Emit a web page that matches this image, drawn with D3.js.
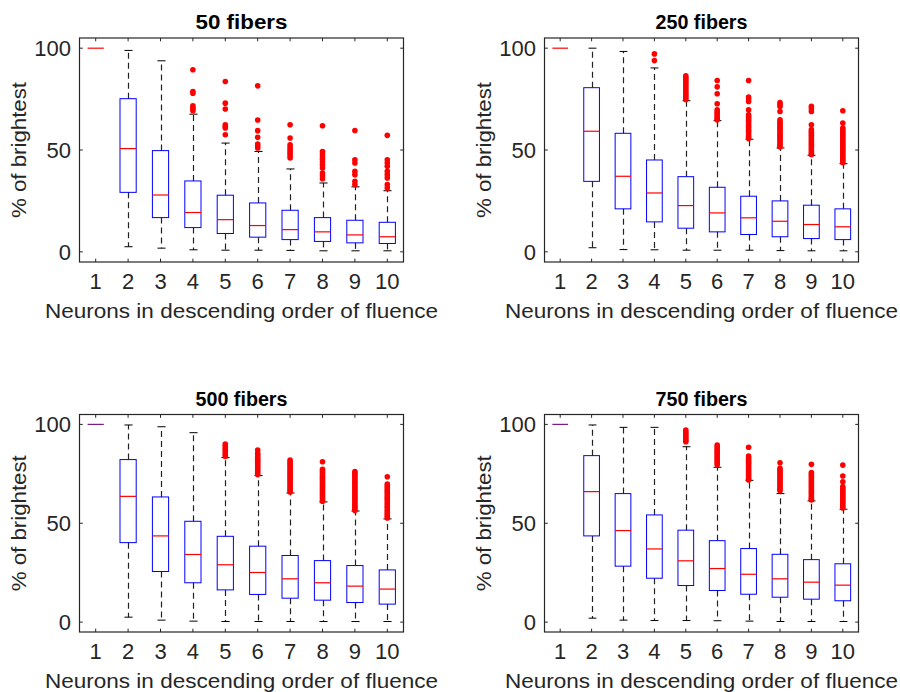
<!DOCTYPE html>
<html>
<head>
<meta charset="utf-8">
<script src="https://cdn.jsdelivr.net/npm/d3@7"></script>
<style>
  html, body { margin: 0; padding: 0; background: #fff; }
  svg { display: block; }
  text { font-family: "Liberation Sans", Arial, Helvetica, sans-serif; fill: #262626; }
</style>
</head>
<body>
<svg id="chart" width="900" height="692"></svg>
<script>
// ---------- data ----------
const neurons = [1, 2, 3, 4, 5, 6, 7, 8, 9, 10];
const yTicks = [0, 50, 100];
const panelTitles = ["50 fibers", "250 fibers", "500 fibers", "750 fibers"];
const xLabel = "Neurons in descending order of fluence";
const yLabel = "% of brightest";

// 50 fibers
const f50_hi  = [100, 98.9, 93.8, 67.6, 53.4, 49.3, 40.7, 33.8, 31.9, 30.0];
const f50_q3  = [100, 75.2, 49.7, 34.8, 27.8, 24.0, 20.4, 16.8, 15.5, 14.5];
const f50_med = [100, 50.7, 27.9, 19.3, 15.8, 12.9, 10.9, 9.8, 8.3, 7.4];
const f50_q1  = [100, 29.2, 16.8, 11.9, 9.0, 7.2, 6.0, 5.1, 4.4, 4.1];
const f50_lo  = [100, 2.5, 1.8, 1.0, 0.8, 0.8, 0.7, 0.5, 0.5, 0.5];
const f50_out = [
  [], [], [],
  [89.4, 78.7, 77.9, 71.7, 70.9, 70.1, 69.3],
  [83.6, 73.0, 70.1, 62.4, 61.6, 60.8, 57.5],
  [81.5, 64.7, 59.5, 56.2, 52.9, 52.0, 51.0],
  [62.4, 55.9, 52.6, 51.5, 50.4, 49.3, 48.2, 47.1, 46.1],
  [61.9, 49.3, 48.0, 46.7, 45.4, 44.1, 42.8, 41.2, 38.7, 37.3, 35.9],
  [59.6, 45.2, 43.6, 39.5, 37.9, 34.6, 33.0],
  [57.2, 45.2, 43.6, 42.0, 39.5, 37.9, 36.3, 33.0, 31.4]
];

// 250 fibers
const f250_hi  = [100, 100, 98.4, 90.3, 74.2, 64.4, 55.3, 51.0, 47.4, 43.3];
const f250_q3  = [100, 80.6, 58.2, 45.1, 36.9, 31.7, 27.3, 25.0, 22.9, 21.1];
const f250_med = [100, 59.2, 37.1, 28.9, 22.7, 19.1, 16.7, 15.0, 13.4, 12.3];
const f250_q1  = [100, 34.6, 21.1, 14.7, 11.6, 9.8, 8.5, 7.4, 6.5, 6.0];
const f250_lo  = [100, 2.0, 1.1, 1.0, 0.8, 0.8, 0.8, 0.6, 0.5, 0.5];
const f250_out = [
  [], [], [],
  [97.2, 93.9],
  [86.4, 85.5, 84.6, 83.7, 82.8, 81.9, 81.0, 80.1, 79.2, 78.3, 77.4, 76.5, 75.6, 74.8],
  [84.1, 81.0, 77.6, 72.7, 69.7, 68.8, 67.9, 67.0, 66.1, 65.2, 64.8],
  [84.1, 76.0, 75.0, 73.8, 69.7, 67.3, 66.4, 65.5, 64.6, 63.7, 62.8, 61.9, 61.0, 60.1, 59.2, 58.3, 57.4, 56.5, 55.6],
  [73.3, 72.3, 71.4, 68.9, 64.8, 63.9, 63.0, 62.1, 61.2, 60.3, 59.4, 58.5, 57.6, 56.7, 55.8, 54.9, 54.0, 53.1, 52.2, 51.5],
  [71.4, 70.2, 68.9, 62.4, 60.0, 59.1, 58.2, 57.3, 56.4, 55.5, 54.6, 53.7, 52.8, 51.9, 51.0, 50.1, 49.2, 48.3, 47.7],
  [69.3, 63.2, 60.8, 59.9, 59.0, 58.1, 57.2, 56.3, 55.4, 54.5, 53.6, 52.7, 51.8, 50.9, 50.0, 49.1, 48.2, 47.3, 46.4, 45.5, 44.6, 43.8]
];

// 500 fibers
const f500_hi  = [100, 99.7, 98.8, 95.8, 83.2, 74.1, 65.3, 60.8, 56.2, 52.2];
const f500_q3  = [100, 82.2, 63.3, 51.0, 43.4, 38.4, 33.7, 31.1, 28.6, 26.4];
const f500_med = [100, 63.6, 43.6, 34.2, 29.0, 25.1, 21.9, 19.9, 18.2, 16.7];
const f500_q1  = [100, 40.2, 25.6, 19.9, 16.3, 14.0, 12.1, 11.1, 9.9, 9.1];
const f500_lo  = [100, 2.5, 1.0, 0.5, 0.3, 0.3, 0.3, 0.3, 0.3, 0.3];
const f500_out = [
  [], [], [], [],
  [90.1, 89.2, 88.3, 87.4, 86.5, 85.6, 84.7, 83.8],
  [87.0, 85.4, 84.5, 83.6, 82.7, 81.8, 80.9, 80.0, 79.1, 78.2, 77.3, 76.4, 75.5, 74.6],
  [82.0, 81.1, 80.2, 79.3, 78.4, 77.5, 76.6, 75.7, 74.8, 73.9, 73.0, 72.1, 71.2, 70.3, 69.4, 68.5, 67.6, 66.7, 65.8],
  [81.1, 77.3, 76.4, 75.5, 74.6, 73.7, 72.8, 71.9, 71.0, 70.1, 69.2, 68.3, 67.4, 66.5, 65.6, 64.7, 63.8, 62.9, 62.0, 61.1],
  [76.1, 75.2, 74.3, 73.4, 72.5, 71.6, 70.7, 69.8, 68.9, 68.0, 67.1, 66.2, 65.3, 64.4, 63.5, 62.6, 61.7, 60.8, 59.9, 59.0, 58.1, 57.2, 56.5],
  [73.5, 69.8, 68.9, 68.0, 67.1, 66.2, 65.3, 64.4, 63.5, 62.6, 61.7, 60.8, 59.9, 59.0, 58.1, 57.2, 56.3, 55.4, 54.5, 53.6, 52.7]
];

// 750 fibers
const f750_hi  = [100, 99.7, 98.5, 98.5, 88.7, 78.3, 71.7, 65.0, 61.3, 57.1];
const f750_q3  = [100, 84.2, 65.0, 54.2, 46.5, 41.2, 37.2, 34.3, 31.6, 29.5];
const f750_med = [100, 66.0, 46.3, 37.0, 31.0, 27.1, 24.2, 21.9, 20.2, 18.7];
const f750_q1  = [100, 43.6, 28.3, 22.2, 18.5, 16.0, 14.1, 12.6, 11.6, 10.8];
const f750_lo  = [100, 2.0, 1.0, 0.8, 0.8, 0.7, 0.5, 0.3, 0.3, 0.3];
const f750_out = [
  [], [], [], [],
  [97.1, 96.2, 95.3, 94.4, 93.5, 92.6, 91.7, 91.2],
  [89.5, 88.6, 87.7, 86.8, 85.9, 85.0, 84.1, 83.2, 82.3, 81.4, 80.5, 79.6],
  [88.4, 84.0, 83.1, 82.2, 81.3, 80.4, 79.5, 78.6, 77.7, 76.8, 75.9, 75.0, 74.1, 73.2, 72.3, 71.9],
  [80.6, 77.8, 76.9, 76.0, 75.1, 74.2, 73.3, 72.4, 71.5, 70.6, 69.7, 68.8, 67.9, 67.0, 66.5],
  [79.8, 75.6, 74.7, 73.8, 72.9, 72.0, 71.1, 70.2, 69.3, 68.4, 67.5, 66.6, 65.7, 64.8, 63.9, 63.0, 62.1, 61.8],
  [79.4, 73.9, 71.0, 68.5, 67.6, 66.7, 65.8, 64.9, 64.0, 63.1, 62.2, 61.3, 60.4, 59.5, 58.6, 57.7]
];

// ---------- layout ----------
const panels = [
  { title: panelTitles[0], x0: 79.5,  x1: 403.5, y0: 38,    y1: 262, hi: f50_hi,  q3: f50_q3,  med: f50_med,  q1: f50_q1,  lo: f50_lo,  out: f50_out,  firstColor: "#ff0000" },
  { title: panelTitles[1], x0: 544.5, x1: 858.5, y0: 38,    y1: 262, hi: f250_hi, q3: f250_q3, med: f250_med, q1: f250_q1, lo: f250_lo, out: f250_out, firstColor: "#ff0000" },
  { title: panelTitles[2], x0: 79.5,  x1: 403.5, y0: 414.5, y1: 632, hi: f500_hi, q3: f500_q3, med: f500_med, q1: f500_q1, lo: f500_lo, out: f500_out, firstColor: "#7a1a8c" },
  { title: panelTitles[3], x0: 544.5, x1: 858.5, y0: 414.5, y1: 632, hi: f750_hi, q3: f750_q3, med: f750_med, q1: f750_q1, lo: f750_lo, out: f750_out, firstColor: "#7a1a8c" }
];

const svg = d3.select("#chart");
const axisColor = "#262626";
const FS = 21;
const TFS = 22;

panels.forEach(p => {
  const g = svg.append("g");
  const x = d3.scaleLinear().domain([0.5, 10.5]).range([p.x0, p.x1]);
  const y = d3.scaleLinear().domain([-5, 105]).range([p.y1, p.y0]);
  const step = x(2) - x(1);
  const bw = step * 0.5;
  const cw = step * 0.25;
  const tl = 3.3;

  neurons.forEach((n, i) => {
    const cx = Math.round(x(n)) + 0.5;
    if (p.hi[i] > p.q3[i]) {
      g.append("line").attr("x1", cx).attr("x2", cx)
        .attr("y1", y(p.q3[i])).attr("y2", y(p.hi[i]))
        .attr("stroke", "#222").attr("stroke-width", 1.2).attr("stroke-dasharray", "6,4");
    }
    if (p.lo[i] < p.q1[i]) {
      g.append("line").attr("x1", cx).attr("x2", cx)
        .attr("y1", y(p.q1[i])).attr("y2", y(p.lo[i]))
        .attr("stroke", "#222").attr("stroke-width", 1.2).attr("stroke-dasharray", "6,4");
    }
    if (i > 0) {
      [p.hi[i], p.lo[i]].forEach(v => {
        g.append("line").attr("x1", cx - cw / 2).attr("x2", cx + cw / 2)
          .attr("y1", y(v)).attr("y2", y(v))
          .attr("stroke", "#000").attr("stroke-width", 1);
      });
    }
    g.append("rect")
      .attr("x", x(n) - bw / 2).attr("width", bw)
      .attr("y", y(p.q3[i])).attr("height", Math.max(0, y(p.q1[i]) - y(p.q3[i])))
      .attr("fill", "none").attr("stroke", "#0000ff").attr("stroke-width", 1);
    g.append("line").attr("x1", x(n) - bw / 2).attr("x2", x(n) + bw / 2)
      .attr("y1", y(p.med[i])).attr("y2", y(p.med[i]))
      .attr("stroke", i === 0 ? p.firstColor : "#ff0000").attr("stroke-width", 1.2);
    g.selectAll(null).data(p.out[i]).enter().append("circle")
      .attr("cx", x(n)).attr("cy", d => y(d)).attr("r", 2.8)
      .attr("fill", "#ff0000");
  });

  g.append("rect").attr("x", p.x0).attr("y", p.y0)
    .attr("width", p.x1 - p.x0).attr("height", p.y1 - p.y0)
    .attr("fill", "none").attr("stroke", axisColor).attr("stroke-width", 1.2);

  neurons.forEach(n => {
    g.append("line").attr("x1", x(n)).attr("x2", x(n)).attr("y1", p.y1).attr("y2", p.y1 - tl)
      .attr("stroke", axisColor).attr("stroke-width", 1);
    g.append("line").attr("x1", x(n)).attr("x2", x(n)).attr("y1", p.y0).attr("y2", p.y0 + tl)
      .attr("stroke", axisColor).attr("stroke-width", 1);
    g.append("text").attr("x", x(n)).attr("y", p.y1 + 27)
      .attr("text-anchor", "middle").style("font-size", TFS + "px").text(n);
  });
  yTicks.forEach(t => {
    g.append("line").attr("x1", p.x0).attr("x2", p.x0 + tl).attr("y1", y(t)).attr("y2", y(t))
      .attr("stroke", axisColor).attr("stroke-width", 1);
    g.append("line").attr("x1", p.x1).attr("x2", p.x1 - tl).attr("y1", y(t)).attr("y2", y(t))
      .attr("stroke", axisColor).attr("stroke-width", 1);
    g.append("text").attr("x", p.x0 - 8.5).attr("y", y(t) + 7.8)
      .attr("text-anchor", "end").style("font-size", TFS + "px").text(t);
  });

  g.append("text").attr("x", (p.x0 + p.x1) / 2).attr("y", p.y0 - 9)
    .attr("text-anchor", "middle").style("font-size", "20px").style("font-weight", "bold")
    .style("fill", "#000")
    .attr("textLength", 92).attr("lengthAdjust", "spacingAndGlyphs")
    .text(p.title);

  g.append("text").attr("x", (p.x0 + p.x1) / 2).attr("y", p.y1 + 56)
    .attr("text-anchor", "middle").style("font-size", FS + "px")
    .attr("textLength", 393).attr("lengthAdjust", "spacingAndGlyphs")
    .text(xLabel);

  const ly = (p.y0 + p.y1) / 2;
  const lx = p.x0 - 54;
  g.append("text").attr("transform", `translate(${lx},${ly}) rotate(-90)`)
    .attr("text-anchor", "middle").style("font-size", FS + "px")
    .attr("textLength", 136).attr("lengthAdjust", "spacingAndGlyphs")
    .text(yLabel);
});
</script>
</body>
</html>
